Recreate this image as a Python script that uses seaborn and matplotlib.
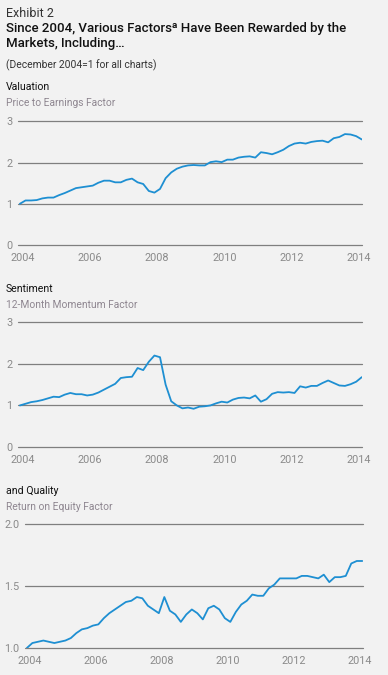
import numpy as np
import pandas as pd
import matplotlib
matplotlib.use("Agg")
import matplotlib.pyplot as plt
import seaborn as sns

# ---- data (2-monthly observations, Dec 2003 .. Feb 2014) ----
dates = pd.date_range("2003-12-01", periods=62, freq="2MS")
years = [d.year + (d.month - 1) / 12 for d in dates]

valuation = [1.00, 1.08, 1.08, 1.09, 1.13, 1.15, 1.15, 1.21, 1.26, 1.32,
             1.38, 1.40, 1.42, 1.44, 1.51, 1.56, 1.56, 1.52, 1.52, 1.58,
             1.61, 1.52, 1.48, 1.31, 1.27, 1.36, 1.62, 1.76, 1.85, 1.90,
             1.93, 1.94, 1.93, 1.93, 2.01, 2.03, 2.01, 2.07, 2.07, 2.12,
             2.14, 2.15, 2.12, 2.25, 2.23, 2.20, 2.25, 2.31, 2.40, 2.46,
             2.48, 2.46, 2.50, 2.52, 2.53, 2.49, 2.59, 2.62, 2.69, 2.68,
             2.64, 2.56]

sentiment = [1.00, 1.04, 1.08, 1.10, 1.13, 1.17, 1.21, 1.20, 1.26, 1.30,
             1.27, 1.27, 1.24, 1.26, 1.31, 1.38, 1.45, 1.52, 1.66, 1.68,
             1.69, 1.90, 1.85, 2.05, 2.20, 2.16, 1.50, 1.10, 1.00, 0.93,
             0.95, 0.92, 0.97, 0.98, 1.00, 1.05, 1.09, 1.07, 1.14, 1.18,
             1.19, 1.17, 1.24, 1.09, 1.15, 1.28, 1.32, 1.31, 1.32, 1.30,
             1.46, 1.43, 1.47, 1.47, 1.54, 1.60, 1.54, 1.48, 1.47, 1.51,
             1.57, 1.68]

quality = [1.00, 1.04, 1.05, 1.06, 1.05, 1.04, 1.05, 1.06, 1.08, 1.12,
           1.15, 1.16, 1.18, 1.19, 1.24, 1.28, 1.31, 1.34, 1.37, 1.38,
           1.41, 1.40, 1.34, 1.31, 1.28, 1.41, 1.30, 1.27, 1.21, 1.27,
           1.31, 1.28, 1.23, 1.32, 1.34, 1.31, 1.24, 1.21, 1.29, 1.35,
           1.38, 1.43, 1.42, 1.42, 1.48, 1.51, 1.56, 1.56, 1.56, 1.56,
           1.58, 1.58, 1.57, 1.56, 1.59, 1.53, 1.57, 1.57, 1.58, 1.68,
           1.70, 1.70]

x_ticks = [2004, 2006, 2008, 2010, 2012, 2014]
panels = [
    ("Valuation", "Price to Earnings Factor", valuation, [0, 1, 2, 3], ["0", "1", "2", "3"], (0, 3)),
    ("Sentiment", "12-Month Momentum Factor", sentiment, [0, 1, 2, 3], ["0", "1", "2", "3"], (0, 3)),
    ("and Quality", "Return on Equity Factor", quality, [1.0, 1.5, 2.0], ["1.0", "1.5", "2.0"], (1.0, 2.0)),
]

# ---- style ----
BG = "#f2f2f2"
LINE = "#1e8fd2"
GRID = "#7f7f7f"
TICK = "#8a8a8a"
SUB = "#8e8690"
sns.set_theme(style="white")
plt.rcParams["font.family"] = ["Roboto", "DejaVu Sans"]

W, H = 388, 675
fig = plt.figure(figsize=(W / 100, H / 100), dpi=100, facecolor=BG)

def fy(py):
    return 1 - py / H

# header
fig.text(6 / W, fy(13.5), "Exhibit 2", fontsize=9, color="#333333", va="center", ha="left")
fig.text(6 / W, fy(28.5), "Since 2004, Various Factors\u1d43 Have Been Rewarded by the",
         fontsize=9.5, color="#111111", va="center", ha="left", fontweight="medium")
fig.text(6 / W, fy(43.5), "Markets, Including\u2026",
         fontsize=9.5, color="#111111", va="center", ha="left", fontweight="medium")
fig.text(6 / W, fy(65), "(December 2004=1 for all charts)", fontsize=7.4, color="#333333",
         va="center", ha="left")

# axes rectangles in pixels: (left, right, top, bottom)
rects = [(18, 362, 121.3, 245), (18, 362, 322.3, 447), (25, 362.5, 523.7, 648)]
title_y = [(87.3, 103.3), (289, 305), (490.7, 506.7)]

for (name, sub, vals, yt, ytl, ylim), (l, r, t, b), (ty1, ty2) in zip(panels, rects, title_y):
    ax = fig.add_axes([l / W, fy(b), (r - l) / W, (b - t) / H])
    ax.set_facecolor(BG)
    df = pd.DataFrame({"year": years, "value": vals})
    sns.lineplot(data=df, x="year", y="value", ax=ax, color=LINE, linewidth=1.3)
    ax.set_xlim(2003.86, 2014.09)
    ax.set_ylim(*ylim)
    ax.set_yticks(yt)
    ax.set_yticklabels(ytl)
    ax.set_xticks(x_ticks)
    ax.set_xticklabels([str(v) for v in x_ticks])
    ax.set_xlabel("")
    ax.set_ylabel("")
    for s in ax.spines.values():
        s.set_visible(False)
    ax.grid(False)
    for v in yt:
        ax.axhline(v, color=GRID, linewidth=0.9, zorder=0, clip_on=False)
    ax.tick_params(axis="both", length=0, labelsize=7.8, colors=TICK)
    ax.tick_params(axis="y", pad=4)
    ax.tick_params(axis="x", pad=6)
    fig.text(6 / W, fy(ty1), name, fontsize=7.6, color="#111111", va="center", ha="left")
    fig.text(6 / W, fy(ty2), sub, fontsize=7.4, color=SUB, va="center", ha="left")

fig.savefig("out.png", dpi=100, facecolor=BG)
